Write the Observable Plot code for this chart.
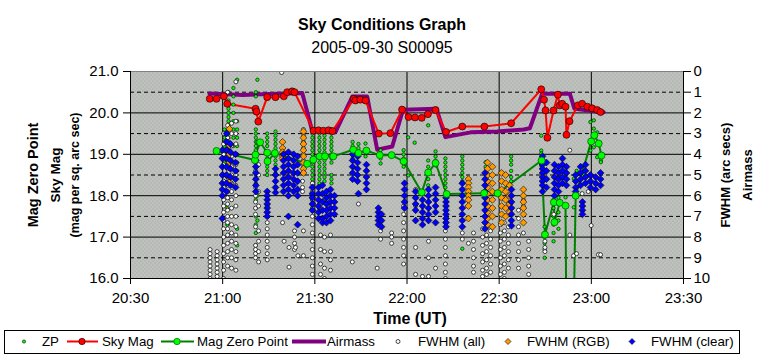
<!DOCTYPE html>
<html><head><meta charset="utf-8">
<script src="https://cdn.jsdelivr.net/npm/d3@7"></script>
<script src="https://cdn.jsdelivr.net/npm/@observablehq/plot@0.6"></script>
<style>
body{margin:0;background:#fff;}
#wrap{position:relative;width:764px;height:359px;font-family:"Liberation Sans",Arial,sans-serif;color:#000;overflow:hidden;}
.t{position:absolute;left:0;width:764px;text-align:center;font-size:16px;line-height:16px;white-space:nowrap;}
</style></head><body>
<div id="wrap">
<div id="chart" style="position:absolute;left:0;top:0"></div>
<div class="t" style="top:17px;font-weight:bold">Sky Conditions Graph</div>
<div class="t" style="top:40px">2005-09-30 S00095</div>
<svg id="legend" width="764" height="30" style="position:absolute;left:0;top:327px" font-family="Liberation Sans, Arial, sans-serif" font-size="13.3">
<rect x="4.5" y="3.5" width="735" height="23" fill="#fff" stroke="#000"/>
<circle cx="24" cy="14.5" r="1.6" fill="#00ff00" stroke="#000" stroke-width="0.6"/>
<text x="42" y="19">ZP</text>
<line x1="67" x2="98" y1="14.5" y2="14.5" stroke="#ff0000" stroke-width="2"/>
<circle cx="82" cy="14.5" r="3.2" fill="#ff0000" stroke="#000" stroke-width="0.6"/>
<text x="102" y="19">Sky Mag</text>
<line x1="161" x2="194" y1="14.5" y2="14.5" stroke="#008000" stroke-width="2"/>
<circle cx="177" cy="14.5" r="3.2" fill="#00ff00" stroke="#006400" stroke-width="0.7"/>
<text x="197" y="19">Mag Zero Point</text>
<line x1="292" x2="326" y1="14.5" y2="14.5" stroke="#800080" stroke-width="4"/>
<text x="327" y="19">Airmass</text>
<circle cx="398" cy="14.5" r="2" fill="#fff" stroke="#000" stroke-width="0.7"/>
<text x="418" y="19">FWHM (all)</text>
<path d="M508,11.5L511,14.5L508,17.5L505,14.5Z" fill="#ff9900" stroke="#000" stroke-width="0.6"/>
<text x="527" y="19">FWHM (RGB)</text>
<path d="M632,11.5L635,14.5L632,17.5L629,14.5Z" fill="#0000ff" stroke="#000" stroke-width="0.6"/>
<text x="651" y="19">FWHM (clear)</text>
</svg>
</div>
<script>
// time axis: minutes after 20:00 UT
const xTicks = [30, 60, 90, 120, 150, 180, 210];
const magTicks = [16, 17, 18, 19, 20, 21];
const fwhmTicks = [0, 1, 2, 3, 4, 5, 6, 7, 8, 9, 10];

// [minute, airmass]
const airmass = [[55.7,1.06],[66.5,1.13],[85.9,1.04],[89.1,2.85],[96.7,2.93],[102.2,1.21],[107.05,1.21],
 [110.3,3.78],[115.2,3.62],[118.7,1.85],[129.6,1.80],[132.5,3.17],[140.7,2.94],[149.4,2.9],[158.0,2.8],
 [160.0,2.74],[164.0,1.07],[173.0,1.07],[174.5,1.8],[184.0,1.97]];

// [minute, sky mag]
const skyMag = [[55.8,20.34],[58.0,20.34],[60.4,20.40],[61.5,20.22],[70.7,20.10],[71.0,20.03],[71.6,19.79],
 [74.5,20.38],[77.2,20.38],[79.9,20.40],[81.0,20.50],[82.6,20.52],[83.4,20.50],
 [89.6,19.57],[91.2,19.58],[92.8,19.57],[94.45,19.58],[95.75,19.56],
 [102.7,20.34],[103.2,20.30],[104.8,20.32],[106.5,20.30],
 [110.8,19.50],[114.6,19.51],[118.4,20.08],[120.5,19.90],[122.6,19.89],[124.8,19.88],[126.8,19.97],[129.3,20.07],
 [132.7,19.54],[138.0,19.67],[145.2,19.67],[153.9,19.75],[163.7,20.57],[164.6,20.32],[165.1,20.06],[165.7,19.40],
 [167.7,20.06],[169.1,20.44],[169.7,20.18],[170.5,20.22],[171.6,20.15],[171.9,19.47],[172.9,19.80],
 [175.6,20.18],[177.0,20.22],[178.7,20.15],[180.3,20.11],[181.9,20.07],[183.0,20.02]];

// [minute, mag zero point]
const magZeroPoint = [[58.0,19.08],[70.5,18.86],[70.7,18.99],[72.2,19.29],[74.5,19.04],[74.6,18.83],[77.0,19.03],
 [87.5,18.77],[89.5,18.87],[91.6,18.95],[93.3,18.95],[96.0,18.95],[102.5,19.11],[104.2,19.03],[106.8,19.09],
 [111.15,18.98],[115.0,18.98],[118.9,18.83],[124.8,18.08],[126.9,18.56],[129.3,18.79],[132.9,18.04],
 [145.1,18.06],[149.5,18.06],[163.8,18.85],[164.9,17.06],[167.8,17.84],[168.0,17.36],[169.7,17.83],
 [171.6,17.76],[172.1,12.5],[173.7,12.5],[174.9,18.0],[179.95,19.31],[181.0,19.46],[182.4,19.26],[183.3,18.97]];

// ZP points: [minute, mags...]
const zp = [
 [60.6,19.6,19.5,19.4,19.3,19.2,19.1,19.0,18.9,18.8],
 [61.5,17.7,17.3],
 [61.9,20.5,20.3,20.2,20.1,20.0,19.9,19.8,19.7,19.6,19.5,19.4,19.3,19.2,19.1],
 [63.5,20.6,20.4,20.2,20.0,19.8,19.6,19.4,19.2,19.0,18.8],
 [64.7,20.8,19.8,19.6,19.4,19.2,19.0,18.8,18.6,17.2,16.8],
 [70.8,20.5,20.4,19.6,19.5,19.4,19.3,19.2,19.1,18.9,18.8,18.7,18.6,18.5,18.3,18.1,17.9,17.7,17.5,17.3,17.1,16.8],
 [71.3,20.8,19.3,19.0,18.5,18.0,17.4],
 [74.5,19.5,19.4,19.3,19.2,19.0,18.9,18.8,18.7,18.6,18.5],
 [77.2,19.55,19.45,19.35,19.25,19.15,19.05,18.95,18.85,18.75,18.55],
 [89.2,19.6,19.5,19.4,19.3,19.2,19.1,19.0,18.9,18.8,18.7,18.6,18.5,18.4,18.3,18.2,18.0,17.9],
 [91.5,19.5,19.4,19.3,19.2,19.1,19.0,18.9,18.8,18.7,18.6,18.5,18.4,18.3,17.7],
 [93.15,19.55,19.45,19.35,19.25,19.15,19.05,18.95,18.85,18.75,18.65,18.55,18.45,18.35,17.9],
 [95.4,19.6,19.5,19.4,19.3,19.2,19.1,19.0,18.9,18.8,18.5,18.4,18.3],
 [102.3,19.3,19.2,19.1,19.0,18.9],
 [104.2,19.25,19.15,19.05,18.95],
 [106.5,19.26,19.1,18.95],
 [111.4,19.1,19.0,18.9,18.78],
 [118.9,19.1,19.0,18.9,18.7],
 [120.4,19.41,18.49],
 [122.5,19.28],
 [126.9,19.7,18.85,18.7,18.55,18.4,18.25],
 [129.3,19.07,18.95,18.85,18.73],
 [132.5,18.9,18.8,18.7,18.6,18.5,18.4,18.3,18.2],
 [138.0,18.95,18.85,18.75,18.65,18.55,18.45,18.35,16.72],
 [145.6,18.81,18.7],
 [153.9,18.95,18.85,18.75,18.6,18.45,18.35],
 [163.7,19.45,19.09,19.02,18.9,18.8,18.73],
 [164.8,17.25,17.0,16.85,16.7,16.5],
 [167.7,17.9,17.7,17.5,17.3,17.1,16.9],
 [169.3,17.95,17.8,17.6,17.4,17.2],
 [171.6,17.96],
 [174.3,18.41,17.72],
 [175.2,18.6,18.35],
 [177.6,18.53,18.6],
 [179.7,19.78,19.09],
 [180.8,19.82,19.62,19.17],
 [181.9,19.53,18.93],
 [183.1,18.85,18.81]
];

// FWHM (all), arc secs: [minute, values...]
const fwhmAll = [
 [55.9,8.6,8.8,9.0,9.2,9.4,9.6,9.8,10.0],
 [58.2,8.7,8.9,9.1,9.3,9.5,9.7,9.9],
 [60.3,3.0,3.5,4.0,4.5,5.0,5.3,5.6,5.9,6.2,6.5,6.8,7.2,7.6,8.0,8.4,8.8,9.2,9.6,10.0],
 [61.6,1.0,2.6,3.2,3.8,4.3,4.7,5.1,5.5,5.8,6.1,6.4,6.7,7.0,7.3,7.6,7.9,8.3,8.7,9.0,9.4],
 [62.9,2.5,3.0,3.6,4.1,4.6,5.0,5.4,5.8,6.2,6.6,7.0,7.4,7.8,8.2,8.6,9.0,9.5],
 [64.3,0.5,2.4,3.0,3.5,4.0,4.5,5.0,5.5,6.0,6.5,7.0,7.5,7.9,8.3,8.7,9.1,9.6],
 [70.7,4.4,4.8,5.2,5.6,6.0,6.3,6.6,6.9,7.5,8.4,8.6,8.8,9.0],
 [71.7,4.5,5.0,5.8,6.5,7.7,8.2,8.7,9.2],
 [74.5,6.5,7.0,7.3,7.6,7.9,8.2,8.5,8.8,9.1],
 [77.2,5.6],[79.2,0.05],[79.5,7.3],[80.0,8.2],[81.6,8.5,9.45],[83.4,7.7,8.0,8.3,8.6],[83.7,8.5],[84.5,8.9],
 [86.0,5.3,5.6,5.8],
 [86.3,2.8,3.1,3.4,3.7,4.0,4.3,4.6,4.9,7.7,8.9],
 [89.2,5.4,5.8,6.2,6.6,7.0,7.4,7.8,8.2,8.6,9.0,9.4,9.8],
 [91.85,7.9,8.6,9.3,9.8],
 [93.15,8.0,8.7,9.5,10.0],
 [95.1,7.9,8.7,9.1,9.6],
 [102.2,9.2],[104.2,6.4],[110.3,9.5],[111.4,7.7,8.1],[115.0,7.8,8.0,8.3],
 [118.9,6.5,6.9,7.3,7.7,8.1,8.5,8.9,9.3],
 [122.8,5.7,6.1,6.5,8.5,9.8],
 [125.05,9.9],[127.0,8.2,9.0,9.9],[129.3,9.5],
 [132.5,7.3,7.7,8.1,8.5,8.9,9.3,9.7,10.0],
 [138.0,7.8,8.1],[140.0,8.3],
 [141.65,7.8,8.2,8.6,9.0,9.4,9.7],
 [144.6,7.6,8.0,8.4,8.8,9.2,9.6,9.9],
 [145.9,7.5,7.9,8.3,8.7,9.1,9.5,9.8],
 [147.2,7.7,8.1,8.5,8.9,9.3,9.7],
 [150.4,7.4,7.8,8.2,8.6,9.0,9.4,9.8],
 [151.7,7.3,7.7,8.1,8.5,8.9,9.3,9.7,10.0],
 [153.0,7.5,7.9,8.3,8.7,9.1,9.5],
 [156.3,6.7,7.1,7.5,7.9,8.3,8.7,9.1,9.5],
 [157.9,6.2,6.5,7.8],
 [159.6,8.2,8.6,9.0,9.4,9.8],
 [164.9,8.2,8.5,8.7],[167.8,6.9],[173.0,3.8,7.9],[174.2,8.9],[175.2,8.8],[177.0,5.9],
 [179.0,5.8],[179.95,5.67,7.44],[182.3,8.85],[183.0,8.85]
];

// FWHM (RGB), arc secs
const fwhmRGB = [
 [62.2,2.77,3.57,4.0,4.38,5.1,5.35],
 [79.5,3.4,3.7,3.9,4.1,4.2],
 [86.3,2.9,3.2,3.5,3.8,4.1,4.4,4.7,4.9],
 [140.0,5.2,5.4,5.6,5.8,6.0,6.2,6.5,7.1],
 [146.2,4.4,4.7,5.0,5.3,5.6,5.9,6.2,6.5,6.8,7.1,7.4],
 [147.8,4.6,5.0,5.4,5.8,6.2,6.6,7.0,7.5],
 [150.8,4.9,5.3,5.7,6.1,6.5,6.9,7.3],
 [152.1,5.0,5.4,5.8,6.2,6.6,7.0],
 [153.4,5.5,6.0,6.4,6.8],
 [157.9,5.7,6.0,6.3,6.6,6.9,7.3]
];

// FWHM (clear), arc secs
const fwhmClear = [
 [59.9,3.8,4.2,4.6,5.0,5.4,5.7,6.0,7.1],
 [61.25,3.0,3.4,3.8,4.2,4.6,5.0,5.4,5.8],
 [62.55,3.5,3.9,4.3,4.7,5.1,5.5],
 [64.2,4.0,4.4,4.8,5.2,5.6],
 [70.8,4.3,4.6,4.9,5.2,5.5,5.8],
 [74.5,5.8,6.0,6.2,6.4,6.6,6.8,7.0],
 [77.2,4.7,5.0,5.3,5.6,5.85],
 [79.8,4.0,4.3,4.6,4.9,5.2,5.5,5.8],
 [81.4,3.9,4.2,4.5,4.8,5.1,5.4,5.7,6.0,7.0],
 [83.1,4.0,4.3,4.6,4.9,5.2,5.5,5.8],
 [84.4,4.1,4.5,4.9,5.3,5.7,6.0,7.4],
 [89.2,5.6,5.9,6.1,6.4,6.7],
 [91.2,5.6,5.9,6.2,6.5,6.8,7.1],
 [92.5,5.5,5.9,6.3,6.7,7.1,7.3],
 [93.8,5.8,6.1,6.4,6.7,7.0,7.3],
 [95.1,5.7,6.0,6.3,6.6,6.9,7.2],
 [96.4,6.0,6.3,6.6,6.9],
 [102.3,4.0,4.3,4.6,4.9,5.2],
 [103.9,4.1,4.4,4.7,5.0,5.3],
 [104.2,5.9],
 [106.8,4.5,4.8,5.1,5.4,5.7],
 [110.7,6.6,6.8,7.0,7.2,7.4],
 [111.7,6.9,7.2,7.5],
 [119.2,5.4,5.7,6.0,6.3,6.6],
 [122.8,5.8,6.1,6.4,6.7,7.2],
 [125.05,6.2,6.5,6.8,7.1,7.4],
 [127.0,5.7,6.0,6.3,6.6,6.9,7.2],
 [129.3,5.6,5.9,6.2,6.5,6.8,7.3],
 [132.7,6.1,6.3,6.5,6.7,6.9,7.1,7.3,7.5],
 [138.0,5.4,5.7,6.0,6.3,6.6,6.9,7.2,7.5],
 [145.4,4.9,5.2,5.5,5.8,6.1,6.4,6.7,7.0,7.3,7.6],
 [154.0,5.7,6.0,6.3,6.6,6.9,7.2,7.45],
 [164.1,4.1,4.3,4.5,4.7,4.9,5.1,5.3,5.5,5.8],
 [165.4,4.4,4.8,5.2,5.6],
 [168.0,4.5,4.8,5.1,5.4,5.7,6.0],
 [169.3,4.6,4.9,5.2,5.5,5.8],
 [170.6,4.2,4.5,4.8,5.1,5.4],
 [171.9,4.6,4.9,5.2,5.5],
 [174.9,5.0,5.3,5.6,5.8],
 [176.5,4.6,4.9,5.2,5.5],
 [177.1,6.3,6.5,6.7,6.9],
 [178.1,4.5,4.8,5.1,5.4],
 [179.7,5.0,5.3,5.6],
 [181.4,5.1,5.4,5.7],
 [183.0,4.9,5.2,5.5]
];

// secondary axis (FWHM / airmass, 0 top .. 10 bottom) mapped onto the mag scale
const toMag = v => 21 - v / 2;
const cols = rows => rows.flatMap(([t, ...vs]) => vs.map(v => ({t, v})));
const fmtTime = m => `${20 + Math.floor(m / 60)}:${String(m % 60).padStart(2, "0")}`;
const title = (s, o) => Plot.text([s], {text: d => d, textAnchor: "middle", lineAnchor: "middle", fontWeight: "bold", ...o});

const chart = Plot.plot({
  width: 764, height: 359,
  marginTop: 71, marginBottom: 81, marginLeft: 130, marginRight: 81,
  style: {fontFamily: "Liberation Sans, Arial, sans-serif", fontSize: "15px", color: "#000", background: "transparent", overflow: "visible"},
  x: {domain: [xTicks[0], xTicks[xTicks.length - 1]]},
  y: {domain: [magTicks[0], magTicks[magTicks.length - 1]]},
  marks: [
    Plot.frame({fill: "url(#bgpat)"}),
    Plot.ruleY(magTicks.slice(1, -1), {stroke: "#000", strokeWidth: 1}),
    Plot.ruleY(fwhmTicks.filter(v => v % 2 === 1).map(toMag), {stroke: "#000", strokeWidth: 1, strokeDasharray: "4,3"}),
    Plot.ruleX(xTicks.slice(1, -1), {stroke: "#000", strokeWidth: 1}),
    Plot.line(airmass, {x: d => d[0], y: d => toMag(d[1]), stroke: "#800080", strokeWidth: 4, clip: true}),
    Plot.line(skyMag, {x: d => d[0], y: d => d[1], stroke: "#ff0000", strokeWidth: 2, clip: true}),
    Plot.line(magZeroPoint, {x: d => d[0], y: d => d[1], stroke: "#008000", strokeWidth: 2, clip: true}),
    Plot.dot(cols(zp), {x: "t", y: "v", r: 1.7, fill: "#00ff00", stroke: "#000", strokeWidth: 0.6, clip: true}),
    Plot.dot(cols(fwhmAll), {x: "t", y: d => toMag(d.v), r: 2, fill: "#fff", stroke: "#000", strokeWidth: 0.7, clip: true}),
    Plot.dot(cols(fwhmRGB), {x: "t", y: d => toMag(d.v), symbol: "diamond2", r: 3.1, fill: "#ff9900", stroke: "#000", strokeWidth: 0.6, clip: true}),
    Plot.dot(cols(fwhmClear), {x: "t", y: d => toMag(d.v), symbol: "diamond2", r: 3.1, fill: "#0000ff", stroke: "#000", strokeWidth: 0.6, clip: true}),
    Plot.dot(skyMag, {x: d => d[0], y: d => d[1], r: 3.5, fill: "#ff0000", stroke: "#000", strokeWidth: 0.6, clip: true}),
    Plot.dot(magZeroPoint, {x: d => d[0], y: d => d[1], r: 3.5, fill: "#00ff00", stroke: "#006400", strokeWidth: 0.8, clip: true}),
    Plot.ruleY([magTicks[magTicks.length - 1]], {stroke: "#808080"}),
    Plot.ruleY([magTicks[0]], {stroke: "#000"}),
    Plot.ruleX([xTicks[0], xTicks[xTicks.length - 1]], {stroke: "#000"}),
    Plot.axisX(xTicks, {tickFormat: fmtTime, tickSize: 6, tickPadding: 8, label: null}),
    Plot.axisY(magTicks, {anchor: "left", tickFormat: d => d.toFixed(1), tickSize: 7, tickPadding: 5, label: null}),
    Plot.axisY(fwhmTicks.map(toMag), {anchor: "right", tickFormat: d => String(Math.round((21 - d) * 2)), tickSize: 7, tickPadding: 3, label: null}),
    title("Mag Zero Point", {frameAnchor: "left", dx: -97, rotate: -90, fontSize: 14.5}),
    title("Sky Mag", {frameAnchor: "left", dx: -75, rotate: -90, fontSize: 13.5}),
    title("(mag per sq. arc sec)", {frameAnchor: "left", dx: -56, rotate: -90, fontSize: 12.5}),
    title("FWHM (arc secs)", {frameAnchor: "right", dx: 42, rotate: -90, fontSize: 13}),
    title("Airmass", {frameAnchor: "right", dx: 64, rotate: -90, fontSize: 13}),
    title("Time (UT)", {frameAnchor: "bottom", dy: 40, dx: 3, fontSize: 16})
  ]
});
d3.select(chart).insert("defs", ":first-child").html(
  '<pattern id="bgpat" width="4" height="4" patternUnits="userSpaceOnUse">' +
  '<rect width="4" height="4" fill="#c0c0c0"/>' +
  '<rect x="0" y="0" width="1" height="1" fill="#8aaa8a"/>' +
  '<rect x="2" y="2" width="1" height="1" fill="#8aaa8a"/></pattern>');
document.getElementById("chart").appendChild(chart);
</script>
</body></html>
